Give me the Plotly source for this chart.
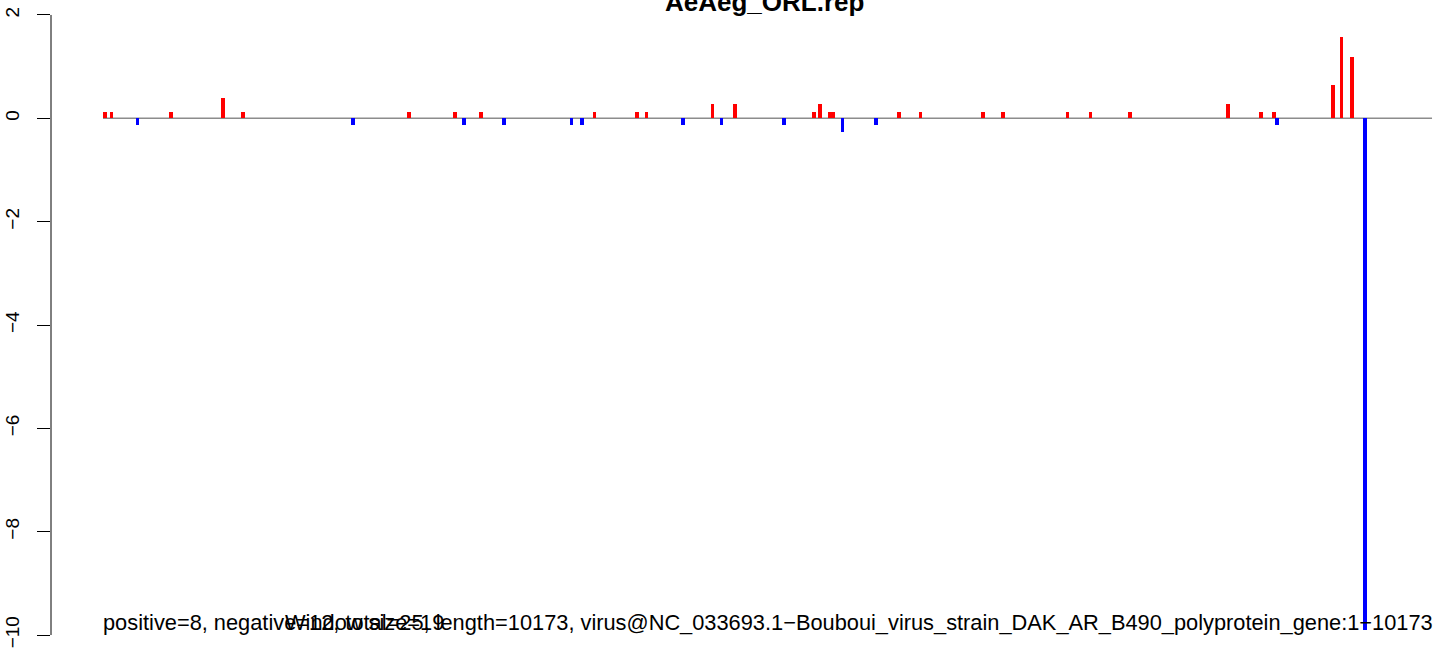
import plotly.graph_objects as go

positions = [14, 67, 266, 519, 917, 1070, 1912, 2341, 2693, 2762, 2892, 3068,
             3588, 3665, 3764, 4086, 4162, 4438, 4667, 4736, 4836, 5211, 5441,
             5487, 5563, 5589, 5662, 5915, 6091, 6259, 6734, 6887, 7384, 7560,
             7859, 8609, 8862, 8961, 8984, 9413, 9481, 9558, 9658]
values = [0.13, 0.13, -0.13, 0.13, 0.40, 0.13, -0.13, 0.13, 0.13, -0.13, 0.13, -0.13,
          -0.13, -0.13, 0.13, 0.13, 0.13, -0.13, 0.27, -0.13, 0.27, -0.13, 0.13,
          0.27, 0.13, 0.13, -0.27, -0.13, 0.13, 0.13, 0.13, 0.13, 0.13, 0.13,
          0.13, 0.27, 0.13, 0.13, -0.13, 0.65, 1.57, 1.18, -9.9]
y_ticks = [-10, -8, -6, -4, -2, 0, 2]
genome_length = 10173
title_text = "AeAeg_ORL.rep"
info_text = ("positive=8, negative=12, total=25, length=10173, "
             "virus@NC_033693.1\u2212Bouboui_virus_strain_DAK_AR_B490_polyprotein_gene:1\u221210173")
window_text = "Window size=19"

colors = ["#FF0000" if v > 0 else "#0000FF" for v in values]

fig = go.Figure()
fig.add_trace(go.Bar(x=positions, y=values, width=28, marker=dict(color=colors, line=dict(width=0)),
                     showlegend=False))

# baseline
fig.add_shape(type="line", xref="x", yref="y", x0=1, x1=genome_length, y0=0, y1=0,
              line=dict(color="#8c8c8c", width=1.5), layer="below")
# R-style y axis line
fig.add_shape(type="line", xref="paper", yref="y", x0=0, x1=0, y0=-10, y1=2,
              line=dict(color="black", width=1))

fig.add_annotation(text="<b>" + title_text + "</b>", xref="paper", yref="paper", x=0.5135, y=1.0,
                   yanchor="middle", yshift=-2, showarrow=False,
                   font=dict(family="Liberation Sans, Arial", size=26, color="black"))
fig.add_annotation(text=info_text, xref="x", yref="y", x=(1 + genome_length) / 2, y=-9.75,
                   xanchor="center", yanchor="middle", showarrow=False,
                   font=dict(family="Liberation Sans, Arial", size=21.8, color="black"))
fig.add_annotation(text=window_text, xref="x", yref="y", x=1379, y=-9.75,
                   xanchor="left", yanchor="middle", showarrow=False,
                   font=dict(family="Liberation Sans, Arial", size=21.8, color="black"))

fig.update_layout(
    width=1444, height=656,
    margin=dict(l=51, r=4, t=0, b=0),
    plot_bgcolor="white", paper_bgcolor="white",
    bargap=0,
    font=dict(family="Liberation Sans, Arial", size=16, color="black"),
)
fig.update_xaxes(range=[-397, 10234], showgrid=False, zeroline=False, showline=False,
                 showticklabels=False, ticks="", automargin=False)
fig.update_yaxes(range=[-10.406, 2.290], tickvals=y_ticks, ticks="outside", ticklen=13,
                 tickcolor="black", tickangle=-90, showgrid=False, zeroline=False,
                 showline=False, ticklabelstandoff=10, automargin=False,
                 tickfont=dict(family="Liberation Sans, Arial", size=19, color="black"))

fig.write_html("out.html", config={"displayModeBar": False},
               post_script="document.body.style.margin='0px';")
